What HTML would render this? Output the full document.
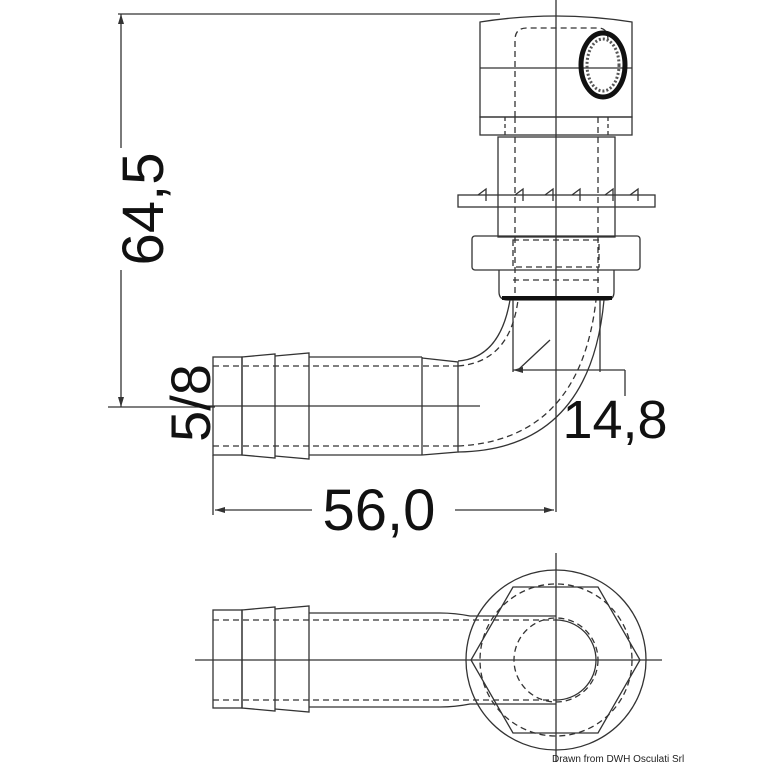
<!DOCTYPE html>
<html><head><style>body{margin:0;background:#fff}svg{display:block}</style></head><body>
<svg width="768" height="768" viewBox="0 0 768 768" xmlns="http://www.w3.org/2000/svg" font-family="Liberation Sans, sans-serif">
<g fill="none" stroke="#333" stroke-width="1.3">
<line x1="118" y1="14" x2="500" y2="14"/>
<line x1="121" y1="14" x2="121" y2="148"/>
<line x1="121" y1="270" x2="121" y2="407"/>
<line x1="108" y1="407" x2="215" y2="407"/>
<line x1="556" y1="0" x2="556" y2="512"/>
<path d="M480 22 Q556 10 632 22 L632 117 L480 117 Z"/>
<line x1="480" y1="68" x2="632" y2="68"/>
<rect x="480" y="117" width="152" height="18"/>
<path d="M515 117 V40 Q515 28 527 28 H598 Q608 28 608 40" stroke-dasharray="6,4"/>
<ellipse cx="603" cy="65" rx="22" ry="32" stroke="#111" stroke-width="5"/>
<ellipse cx="603" cy="65" rx="16" ry="26" stroke="#555" stroke-dasharray="2,2" stroke-width="3"/>
<rect x="498" y="137" width="117" height="100"/>
<line x1="515" y1="117" x2="515" y2="300" stroke-dasharray="6,4"/>
<line x1="598" y1="117" x2="598" y2="300" stroke-dasharray="6,4"/>
<line x1="505" y1="117" x2="505" y2="137" stroke-dasharray="4,3"/>
<line x1="608" y1="117" x2="608" y2="137" stroke-dasharray="4,3"/>
<rect x="458" y="195" width="197" height="12"/>
<path d="M478 195 l8 -6 v12 M515 195 l8 -6 v12 M545 195 l8 -6 v12 M572 195 l8 -6 v12 M605 195 l8 -6 v12 M630 195 l8 -6 v12"/>
<rect x="472" y="236" width="168" height="34" rx="3"/>
<rect x="513" y="240" width="86" height="27" stroke-dasharray="6,4"/>
<path d="M499 270 V292 Q499 300 508 300 H606 Q614 300 614 292 V270"/>
<line x1="502" y1="298" x2="612" y2="298" stroke="#111" stroke-width="4"/>
<line x1="513" y1="280" x2="600" y2="280" stroke-dasharray="6,4"/>
<rect x="213" y="357" width="29" height="98"/>
<path d="M242 357 L275 354 L275 458 L242 455 Z"/>
<path d="M275 356 L309 353 L309 459 L275 456"/>
<line x1="309" y1="357" x2="422" y2="357"/>
<line x1="309" y1="455" x2="422" y2="455"/>
<line x1="422" y1="357" x2="422" y2="455"/>
<path d="M422 358 L458 362 L458 452 L422 455"/>
<line x1="213" y1="366" x2="458" y2="366" stroke-dasharray="6,4"/>
<line x1="213" y1="446" x2="458" y2="446" stroke-dasharray="6,4"/>
<line x1="200" y1="406" x2="480" y2="406"/>
<path d="M458 361 Q500 358 510 300"/>
<path d="M458 452 Q590 450 604 300"/>
<path d="M458 366 Q510 362 518 300" stroke-dasharray="6,4"/>
<path d="M458 446 Q580 440 596 300" stroke-dasharray="6,4"/>
<line x1="513" y1="370" x2="625" y2="370"/>
<line x1="625" y1="370" x2="625" y2="396"/>
<line x1="513" y1="300" x2="513" y2="372"/>
<line x1="600" y1="300" x2="600" y2="372"/>
<path d="M518 370 L550 340"/>
<line x1="213" y1="455" x2="213" y2="515"/>
<line x1="215" y1="510" x2="312" y2="510"/>
<line x1="455" y1="510" x2="554" y2="510"/>
<line x1="195" y1="660" x2="662" y2="660"/>
<line x1="556" y1="553" x2="556" y2="762"/>
<rect x="213" y="610" width="29" height="98"/>
<path d="M242 610 L275 607 L275 711 L242 708 Z"/>
<path d="M275 609 L309 606 L309 712 L275 709"/>
<path d="M309 613 H440 Q455 613 470 616 H556"/>
<path d="M309 707 H440 Q455 707 470 704 H556"/>
<line x1="213" y1="620" x2="556" y2="620" stroke-dasharray="6,4"/>
<line x1="213" y1="700" x2="556" y2="700" stroke-dasharray="6,4"/>
<circle cx="556" cy="660" r="90"/>
<polygon points="513,587 598,587 640,660 598,733 513,733 471,660"/>
<circle cx="556" cy="660" r="42" stroke-dasharray="6,4"/>
<path d="M556 620 A40 40 0 0 1 556 700" />
<circle cx="556" cy="660" r="76" stroke-dasharray="6,4"/>
</g>
<g fill="#333">
<polygon points="121,14 118,24 124,24"/>
<polygon points="121,407 118,397 124,397"/>
<polygon points="215,510 225,507 225,513"/>
<polygon points="554,510 544,507 544,513"/>
<polygon points="513,370 523,367 523,373"/>
</g>
<g fill="#111">
<text transform="translate(163,209) rotate(-90)" text-anchor="middle" font-size="58">64,5</text>
<text transform="translate(210,403) rotate(-90)" text-anchor="middle" font-size="56">5/8</text>
<text x="379" y="530" text-anchor="middle" font-size="58">56,0</text>
<text x="615" y="438" text-anchor="middle" font-size="54">14,8</text>
</g>
<text x="552" y="762" font-size="10" fill="#222">Drawn from DWH Osculati Srl</text>
</svg>
</body></html>
